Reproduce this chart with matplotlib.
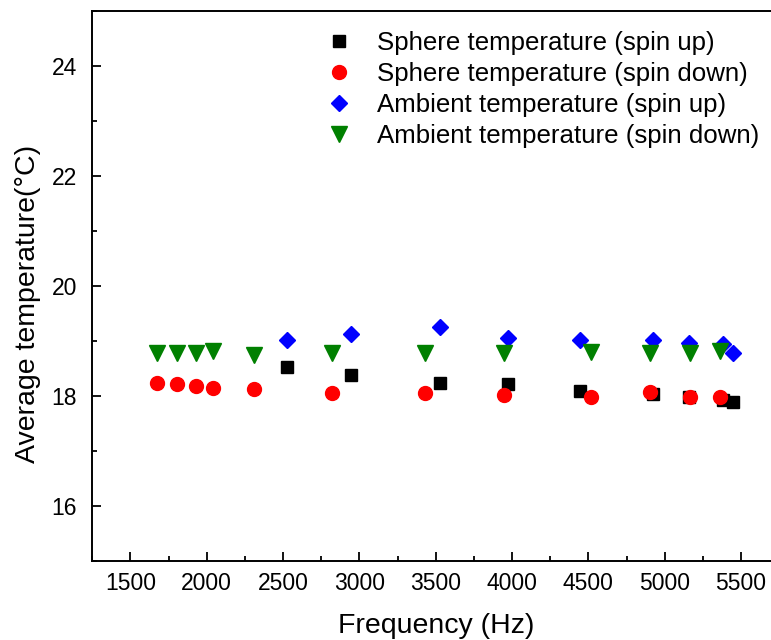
import matplotlib
matplotlib.use("Agg")
import matplotlib.pyplot as plt
from matplotlib.ticker import MultipleLocator

plt.rcParams['font.family'] = ['Liberation Sans', 'DejaVu Sans']

# Spin up (sphere + ambient)
freq_up = [2524, 2942, 3527, 3975, 4445, 4925, 5157, 5382, 5444]
sphere_up = [18.52, 18.39, 18.24, 18.22, 18.10, 18.04, 17.99, 17.93, 17.90]
ambient_up = [19.02, 19.13, 19.26, 19.05, 19.02, 19.02, 18.97, 18.95, 18.79]

# Spin down (sphere + ambient)
freq_down = [1677, 1808, 1928, 2041, 2308, 2821, 3430, 3948, 4517, 4904, 5166, 5363]
sphere_down = [18.24, 18.21, 18.19, 18.14, 18.12, 18.06, 18.06, 18.01, 17.99, 18.07, 17.98, 17.98]
ambient_down = [18.78, 18.78, 18.78, 18.81, 18.75, 18.78, 18.79, 18.78, 18.80, 18.78, 18.78, 18.81]

labels = ["Sphere temperature (spin up)", "Sphere temperature (spin down)",
          "Ambient temperature (spin up)", "Ambient temperature (spin down)"]

fig = plt.figure(figsize=(7.71, 6.4), dpi=100)
ax = fig.add_axes([0.1197, 0.1234, 0.891, 0.8594])

ax.plot(freq_up, sphere_up, linestyle='none', marker='s', ms=8.5, color='black', label=labels[0])
ax.plot(freq_down, sphere_down, linestyle='none', marker='o', ms=10, color='#ff0000', label=labels[1])
ax.plot(freq_up, ambient_up, linestyle='none', marker='D', ms=8.5, color='#0000ff', label=labels[2])
ax.plot(freq_down, ambient_down, linestyle='none', marker='v', ms=11, color='#008000', label=labels[3])

ax.set_xlim(1250, 5750)
ax.set_ylim(15, 25)
ax.xaxis.set_major_locator(MultipleLocator(500))
ax.xaxis.set_minor_locator(MultipleLocator(250))
ax.yaxis.set_major_locator(MultipleLocator(2))
ax.yaxis.set_minor_locator(MultipleLocator(1))
ax.set_yticks([16, 18, 20, 22, 24])

ax.tick_params(which='both', direction='in', top=False, right=False, width=1.3, colors='black')
ax.tick_params(which='major', length=6.5, labelsize=16.5, pad=8)
ax.tick_params(axis='y', which='major', pad=11)
ax.tick_params(which='minor', length=3.5)
for s in ax.spines.values():
    s.set_linewidth(1.4)

ax.set_xlabel("Frequency (Hz)", fontsize=20.5)
ax.set_ylabel("Average temperature(°C)", fontsize=20.5)
ax.xaxis.set_label_coords(0.5, -0.095)
ax.yaxis.set_label_coords(-0.074, 0.467)

leg = ax.legend(loc='upper left', bbox_to_anchor=(0.4063, 0.968), bbox_transform=fig.transFigure,
                frameon=False, fontsize=18.6, handletextpad=0.87, labelspacing=0.27,
                handlelength=1.2, borderaxespad=0)

fig.savefig("out.png", dpi=100)
